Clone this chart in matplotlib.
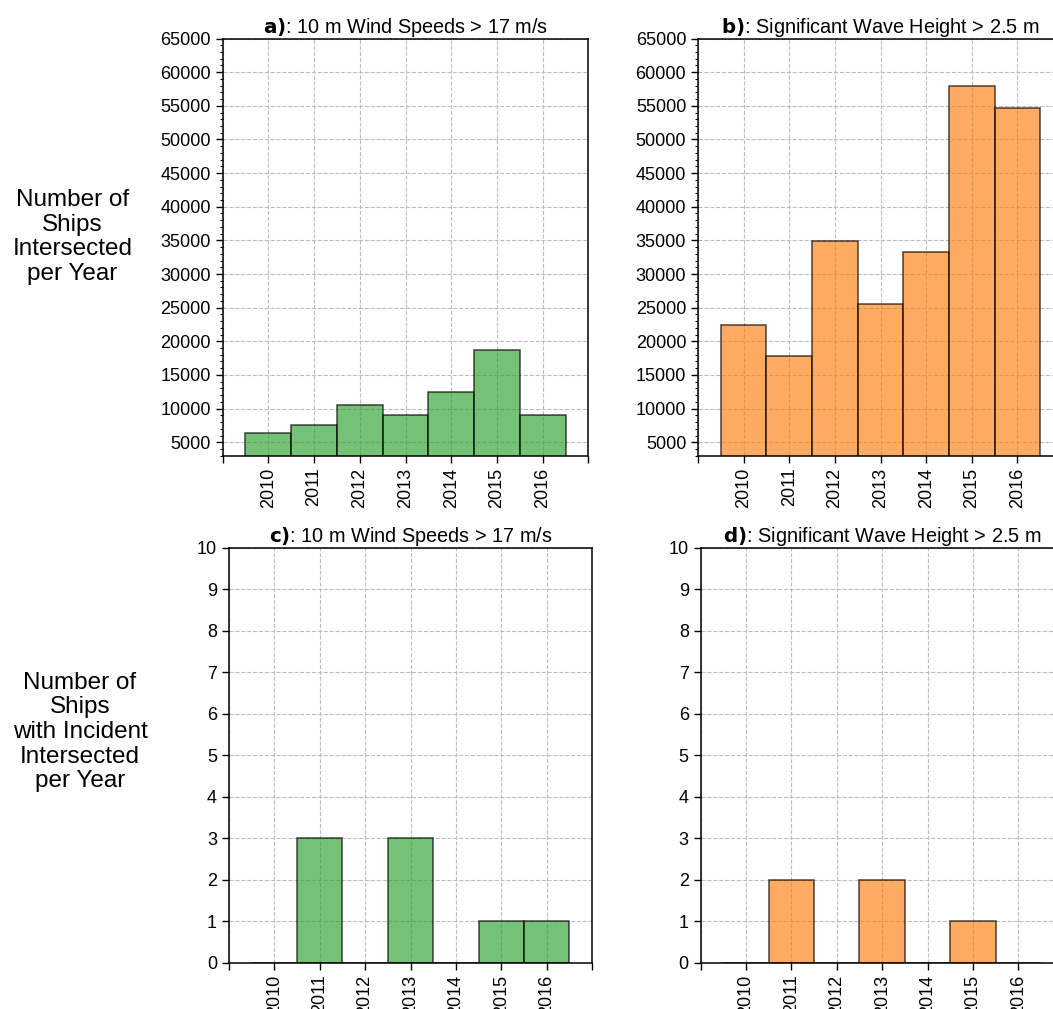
import matplotlib
matplotlib.use("Agg")
import matplotlib.pyplot as plt
from matplotlib.ticker import MultipleLocator

plt.rcParams['font.family'] = ['Liberation Sans', 'DejaVu Sans']

years = [2010, 2011, 2012, 2013, 2014, 2015, 2016]
wind_ships = [6300, 7600, 10500, 9100, 12450, 18750, 9100]
wave_ships = [22400, 17800, 34900, 25600, 33300, 58000, 54600]
wind_incidents = [0, 3, 0, 3, 0, 1, 1]
wave_incidents = [0, 2, 0, 2, 0, 1, 0]

titles = [r"$\bf{a)}$: 10 m Wind Speeds > 17 m/s",
          r"$\bf{b)}$: Significant Wave Height > 2.5 m",
          r"$\bf{c)}$: 10 m Wind Speeds > 17 m/s",
          r"$\bf{d)}$: Significant Wave Height > 2.5 m"]
row_labels = ["Number of\nShips\nIntersected\nper Year",
              "Number of\nShips\nwith Incident\nIntersected\nper Year"]

W, H = 1053, 1009
fig = plt.figure(figsize=(W / 100, H / 100), dpi=100)

def px_axes(left, right, top, bottom):
    return fig.add_axes([left / W, 1 - bottom / H, (right - left) / W, (bottom - top) / H])

ax_a = px_axes(222.6, 588.4, 38.5, 455.7)
ax_b = px_axes(698.0, 1063.0, 38.5, 455.7)
ax_c = px_axes(228.9, 592.1, 547.7, 962.7)
ax_d = px_axes(700.6, 1063.7, 547.7, 962.7)

panels = [(ax_a, wind_ships, 'tab:green'), (ax_b, wave_ships, 'tab:orange'),
          (ax_c, wind_incidents, 'tab:green'), (ax_d, wave_incidents, 'tab:orange')]

for i, (ax, vals, col) in enumerate(panels):
    ax.set_axisbelow(True)
    ax.grid(True, linestyle='--', color='#bdbdbd', linewidth=0.8)
    ax.bar(years, vals, width=1.0, color=col, alpha=0.65, edgecolor='k', linewidth=1.2)
    ax.set_xlim(2009, 2017)
    ax.set_xticks(list(range(2009, 2018)))
    ax.set_xticklabels([''] + [str(y) for y in years] + [''], rotation=90, fontsize=13)
    if i < 2:
        ax.set_ylim(3000, 65000)
        ax.set_yticks(list(range(5000, 65001, 5000)))
        ax.yaxis.set_minor_locator(MultipleLocator(1000))
    else:
        ax.set_ylim(0, 10)
        ax.set_yticks(list(range(0, 11)))
    ax.tick_params(axis='y', labelsize=13, length=5, width=1)
    ax.tick_params(axis='y', which='minor', length=2.5, width=0.8)
    ax.tick_params(axis='x', length=5, width=1)
    for s in ax.spines.values():
        s.set_linewidth(1.1)
    ax.set_title(titles[i], fontsize=14.3, pad=4)

fig.text(72.5 / W, 1 - 237 / H, row_labels[0], ha='center', va='center',
         multialignment='center', fontsize=17.5, linespacing=1.15)
fig.text(80 / W, 1 - 732 / H, row_labels[1], ha='center', va='center',
         multialignment='center', fontsize=17.5, linespacing=1.15)

fig.savefig('out.png', dpi=100)
